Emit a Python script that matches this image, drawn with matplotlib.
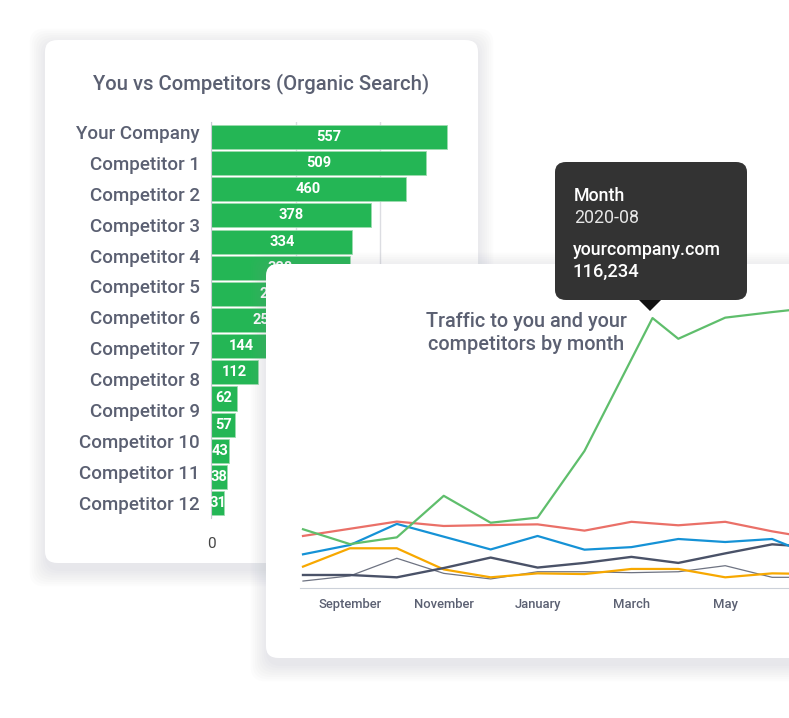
import numpy as np
import matplotlib
matplotlib.use('Agg')
import matplotlib.pyplot as plt
from matplotlib.patches import FancyBboxPatch, Polygon

plt.rcParams['font.family'] = ['Roboto', 'DejaVu Sans']

# bar card data
companies = ['Your Company'] + ['Competitor %d' % i for i in range(1, 13)]
bar_values = [557, 509, 460, 378, 334, 328, 290, 257, 144, 112, 62, 57, 43, 38, 31]
bar_ticks = [0, 200, 400]

# line card data (Aug 2019 .. Jul 2020)
month_names = ['August', 'September', 'October', 'November', 'December', 'January',
               'February', 'March', 'April', 'May', 'June', 'July']
months = list(range(12))
green_x = [0, 1, 2, 3, 4, 5, 6, 7.45, 8, 9, 10, 11]
yourcompany = [25300, 18900, 21800, 39700, 28100, 30300, 59000, 116234, 107300, 116400, 118800, 121000]
comp_red = [22400, 25500, 28600, 26700, 27100, 27400, 24700, 28500, 27000, 28500, 24400, 21000]
comp_blue = [14500, 18500, 27600, 22100, 16600, 22400, 16500, 17600, 21100, 19800, 21100, 13000]
comp_orange = [9200, 17100, 17100, 8000, 4600, 6300, 6000, 8200, 8200, 4600, 6300, 6000]
comp_slate = [5600, 5600, 4600, 8600, 13100, 8800, 10800, 13400, 10800, 14900, 18800, 17500]
comp_gray = [3000, 5200, 12800, 6300, 3900, 7000, 7000, 6600, 7000, 9600, 4600, 4600]

W, H = 789, 718
TXT = '#5b6072'


def fx(px):
    return px / W


def fy(py):
    return 1 - py / H


def card(fig, x0, y0, x1, y1, z):
    # soft shadow
    for k in range(8):
        p = 2 + k * 2.2
        sh = FancyBboxPatch((fx(x0 - p + 2), fy(y1 + p + 6)), fx(x1 - x0 + 2 * p - 4), (y1 - y0 + 2 * p) / H,
                            boxstyle='round,pad=0,rounding_size=0.02', transform=fig.transFigure,
                            facecolor='#8a90a0', edgecolor='none', alpha=0.025, zorder=z - 0.05)
        fig.patches.append(sh)
    c = FancyBboxPatch((fx(x0), fy(y1)), fx(x1 - x0), (y1 - y0) / H,
                       boxstyle='round,pad=0,rounding_size=0.016', transform=fig.transFigure,
                       facecolor='white', edgecolor='none', zorder=z)
    fig.patches.append(c)


fig = plt.figure(figsize=(W / 100, H / 100), dpi=100)
fig.patch.set_facecolor('white')

# ---- card 1: horizontal bars
card(fig, 45, 40, 478, 563, 0.2)
fig.text(fx(261), fy(84), 'You vs Competitors (Organic Search)', ha='center', va='center',
         fontsize=14.6, fontweight='medium', color=TXT, zorder=0.3)

ax1 = fig.add_axes([fx(211), fy(518), fx(465 - 211), (518 - 122) / H], zorder=0.5)
ax1.patch.set_visible(False)
pos = np.arange(len(bar_values))
bars = ax1.barh(pos, bar_values, height=0.92, color='#24b655', edgecolor='#9ddcb0', linewidth=0.6, zorder=2)
ax1.bar_label(bars, label_type='center', color='white', fontsize=10.5,
              family=['Liberation Sans Narrow', 'Roboto'], fontweight='bold')
ax1.set_xlim(0, 600)
ax1.set_ylim(14.57, -0.574)
ax1.set_xticks(bar_ticks)
ax1.tick_params(axis='x', length=0, pad=14, labelsize=11, labelcolor='#444444')
ax1.grid(axis='x', color='#dcdde2', linewidth=1, zorder=0)
ax1.set_yticks(np.linspace(-0.2, 14, len(companies)))
ax1.set_yticklabels(companies, fontweight='medium')
ax1.tick_params(axis='y', length=0, pad=8, labelsize=13.5, labelcolor=TXT)
for s in ['top', 'right', 'bottom']:
    ax1.spines[s].set_visible(False)
ax1.spines['left'].set_color('#c8cbd3')

# ---- card 2: traffic lines
card(fig, 266, 264, 860, 658, 0.7)
fig.text(fx(526), fy(333), 'Traffic to you and your\ncompetitors by month', ha='center', va='center',
         fontsize=14.3, fontweight='medium', color=TXT, linespacing=1.3, zorder=0.75)

ax2 = fig.add_axes([fx(300), fy(588), fx(850 - 300), (588 - 300) / H], zorder=0.8)
ax2.patch.set_visible(False)
ax2.plot(months, comp_gray, color='#6e7382', lw=0.9)
ax2.plot(months, comp_orange, color='#f7a800', lw=1.6)
ax2.plot(months, comp_slate, color='#4a5268', lw=1.7)
ax2.plot(months, comp_blue, color='#1592d6', lw=1.6)
ax2.plot(months, comp_red, color='#ea7068', lw=1.6)
ax2.plot(green_x, yourcompany, color='#5fbe6c', lw=1.6)
ax2.set_xlim(-0.064, 11.66)
ax2.set_ylim(0, 124000)
ax2.set_yticks([])
ax2.set_xticks(months[1:10:2])
ax2.set_xticklabels(month_names[1:10:2], fontweight='medium')
ax2.tick_params(axis='x', length=0, pad=7, labelsize=9.4, labelcolor=TXT)
for s in ['top', 'right', 'left']:
    ax2.spines[s].set_visible(False)
ax2.spines['bottom'].set_color('#ccd1d9')

# ---- tooltip
tip = FancyBboxPatch((fx(555), fy(300)), fx(747 - 555), (300 - 162) / H,
                     boxstyle='round,pad=0,rounding_size=0.014', transform=fig.transFigure,
                     facecolor='#333333', edgecolor='none', zorder=0.9)
fig.patches.append(tip)
arrow = Polygon([(fx(639), fy(300)), (fx(661), fy(300)), (fx(650), fy(311))], closed=True,
                transform=fig.transFigure, facecolor='#111111', edgecolor='none', zorder=0.91)
fig.patches.append(arrow)
fig.text(fx(574), fy(196), 'Month', color='white', fontsize=12.8, fontweight='medium', va='center', zorder=1)
fig.text(fx(574), fy(218), '2020-08', color='#e6e6e6', fontsize=12.8, va='center', zorder=1)
fig.text(fx(573), fy(250), 'yourcompany.com', color='white', fontsize=12.8, fontweight='medium', va='center', zorder=1)
fig.text(fx(572), fy(272), '{:,}'.format(yourcompany[7]), color='white', fontsize=13.2, fontweight='medium',
         va='center', zorder=1)

fig.savefig('out.png', dpi=100)
